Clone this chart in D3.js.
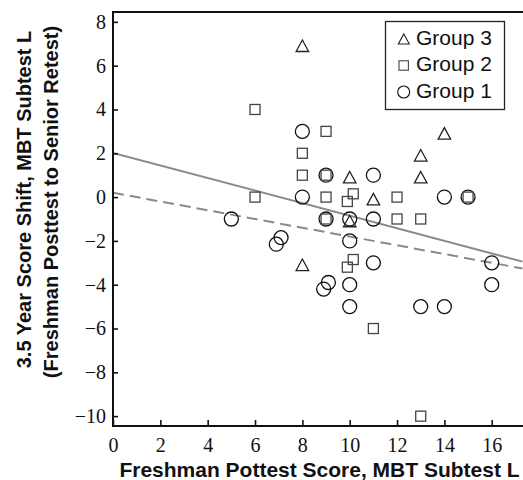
<!DOCTYPE html>
<html>
<head>
<meta charset="utf-8">
<script src="https://cdn.jsdelivr.net/npm/d3@7"></script>
<style>
  body { margin: 0; background: #fff; }
  svg { display: block; }
</style>
</head>
<body>
<svg id="chart" width="523" height="480"></svg>
<script>
// Group 3 (triangles)
const group3X = [8, 13, 14, 10, 13, 11, 10, 8];
const group3Y = [7, 2, 3, 1, 1, 0, -1, -3];

// Group 2 (squares)
const group2X = [6, 8, 8, 9, 6, 9, 10.15, 9.9, 12, 15, 9, 9, 12, 13, 10.15, 9.9, 11, 13];
const group2Y = [4, 2, 1, 3, 0, 0, 0.15, -0.2, 0, 0, 1, -1, -1, -1, -2.85, -3.2, -6, -10];

// Group 1 (circles)
const group1X = [8, 8, 9, 11, 14, 15, 5, 7.1, 6.9, 9, 10, 11, 10, 11, 16, 9.1, 8.9, 10, 16, 10, 13, 14];
const group1Y = [3, 0, 1, 1, 0, 0, -1, -1.85, -2.15, -1, -1, -1, -2, -3, -3, -3.9, -4.2, -4, -4, -5, -5, -5];

// Fitted lines (end points)
const fitX = [0, 17.3];
const fitSolidY = [2.02, -2.945];
const fitDashedY = [0.2, -3.26];

// Ticks and labels
const xTicks = [0, 2, 4, 6, 8, 10, 12, 14, 16];
const yTicks = [8, 6, 4, 2, 0, -2, -4, -6, -8, -10];
const legendLabels = ["Group 3", "Group 2", "Group 1"];
const xTitle = "Freshman Pottest Score, MBT Subtest L";
const yTitle1 = "3.5 Year Score Shift, MBT Subtest L";
const yTitle2 = "(Freshman Posttest to Senior Retest)";

const sans = "'Liberation Sans', Arial, Helvetica, sans-serif";
const serif = "'Liberation Serif', 'Times New Roman', Times, serif";

const svg = d3.select("#chart");
const plotL = 113, plotR = 522.5, plotT = 12, plotB = 426;

const x = d3.scaleLinear().domain([0, 17.3]).range([plotL, plotR]);
const y = d3.scaleLinear().domain([-10.45, 8.45]).range([plotB, plotT]);

const minus = d => (d < 0 ? "\u2212" + Math.abs(d) : String(d));

// clip region for fitted lines
svg.append("defs").append("clipPath").attr("id", "plotClip")
  .append("rect").attr("x", plotL).attr("y", plotT)
  .attr("width", 523 - plotL).attr("height", plotB - plotT);

// fitted lines
const line = d3.line().x(d => x(d[0])).y(d => y(d[1]));
const gLines = svg.append("g").attr("clip-path", "url(#plotClip)");
gLines.append("path")
  .attr("d", line(fitX.map((v, i) => [v, fitSolidY[i]])))
  .attr("fill", "none").attr("stroke", "#8a8a8a").attr("stroke-width", 2);
gLines.append("path")
  .attr("d", line(fitX.map((v, i) => [v, fitDashedY[i]])))
  .attr("fill", "none").attr("stroke", "#8a8a8a").attr("stroke-width", 2)
  .attr("stroke-dasharray", "11,6");

// markers
const triPath = (w, h, dy) =>
  `M0,${-h / 2 + dy}L${w / 2},${h / 2 + dy}L${-w / 2},${h / 2 + dy}Z`;

const g1 = svg.append("g");
g1.selectAll("circle").data(group1X.map((v, i) => [v, group1Y[i]]))
  .join("circle")
  .attr("cx", d => x(d[0])).attr("cy", d => y(d[1])).attr("r", 7)
  .attr("fill", "none").attr("stroke", "#111").attr("stroke-width", 1.3);

const g2 = svg.append("g");
g2.selectAll("rect").data(group2X.map((v, i) => [v, group2Y[i]]))
  .join("rect")
  .attr("x", d => x(d[0]) - 5).attr("y", d => y(d[1]) - 5)
  .attr("width", 10).attr("height", 10)
  .attr("fill", "none").attr("stroke", "#444").attr("stroke-width", 1.3);

const g3 = svg.append("g");
g3.selectAll("path").data(group3X.map((v, i) => [v, group3Y[i]]))
  .join("path")
  .attr("transform", d => `translate(${x(d[0])},${y(d[1])})`)
  .attr("d", triPath(12.5, 11.5, 2))
  .attr("fill", "none").attr("stroke", "#222").attr("stroke-width", 1.3)
  .attr("stroke-linejoin", "miter");

// axes
const xAxis = svg.append("g").attr("transform", `translate(0,${plotB})`)
  .call(d3.axisBottom(x).tickValues(xTicks).tickSizeInner(-6).tickSizeOuter(0)
    .tickPadding(11.5).tickFormat(minus));
const yAxis = svg.append("g").attr("transform", `translate(${plotL},0)`)
  .call(d3.axisLeft(y).tickValues(yTicks).tickSizeInner(-5).tickSizeOuter(0)
    .tickPadding(7).tickFormat(minus));

[xAxis, yAxis].forEach(a => {
  a.attr("font-family", serif).attr("font-size", 20);
  a.select(".domain").attr("stroke", "#111").attr("stroke-width", 2);
  a.selectAll(".tick line").attr("stroke", "#111").attr("stroke-width", 1.6);
  a.selectAll(".tick text").attr("fill", "#111")
    .style("font-family", serif).style("font-size", "20px");
});
yAxis.select(".domain").attr("d", `M0,${plotT - 1}V${plotB + 1}`);
xAxis.select(".domain").attr("d", `M${plotL - 1},0H523`);

// top frame line
svg.append("line").attr("x1", plotL - 1).attr("x2", 523)
  .attr("y1", plotT).attr("y2", plotT)
  .attr("stroke", "#111").attr("stroke-width", 2);

// axis titles
svg.append("text").attr("x", 319.5).attr("y", 477)
  .attr("text-anchor", "middle").attr("fill", "#111")
  .style("font-family", sans).style("font-size", "21px").style("font-weight", "bold")
  .text(xTitle);

svg.append("text").attr("transform", "translate(31,199.5) rotate(-90)")
  .attr("text-anchor", "middle").attr("fill", "#111")
  .style("font-family", sans).style("font-size", "20px").style("font-weight", "bold")
  .text(yTitle1);
svg.append("text").attr("transform", "translate(58.3,202) rotate(-90)")
  .attr("text-anchor", "middle").attr("fill", "#111")
  .style("font-family", sans).style("font-size", "20px").style("font-weight", "bold")
  .text(yTitle2);

// legend
const legend = svg.append("g");
legend.append("rect").attr("x", 385.5).attr("y", 21.5)
  .attr("width", 119).attr("height", 88)
  .attr("fill", "#fff").attr("stroke", "#222").attr("stroke-width", 1.3);

const baselines = [44.5, 71, 97.5];
legendLabels.forEach((lab, i) => {
  const cy = baselines[i] - 5.5;
  if (i === 0) {
    legend.append("path").attr("transform", `translate(403.8,${cy})`)
      .attr("d", triPath(11, 10, 0))
      .attr("fill", "none").attr("stroke", "#222").attr("stroke-width", 1.1);
  } else if (i === 1) {
    legend.append("rect").attr("x", 403.7 - 4.7).attr("y", cy - 4.7)
      .attr("width", 9.4).attr("height", 9.4)
      .attr("fill", "none").attr("stroke", "#444").attr("stroke-width", 1.1);
  } else {
    legend.append("circle").attr("cx", 403.7).attr("cy", cy).attr("r", 6)
      .attr("fill", "none").attr("stroke", "#111").attr("stroke-width", 1.1);
  }
  legend.append("text").attr("x", 416).attr("y", baselines[i])
    .attr("fill", "#111")
    .style("font-family", sans).style("font-size", "21px")
    .text(lab);
});
</script>
</body>
</html>
